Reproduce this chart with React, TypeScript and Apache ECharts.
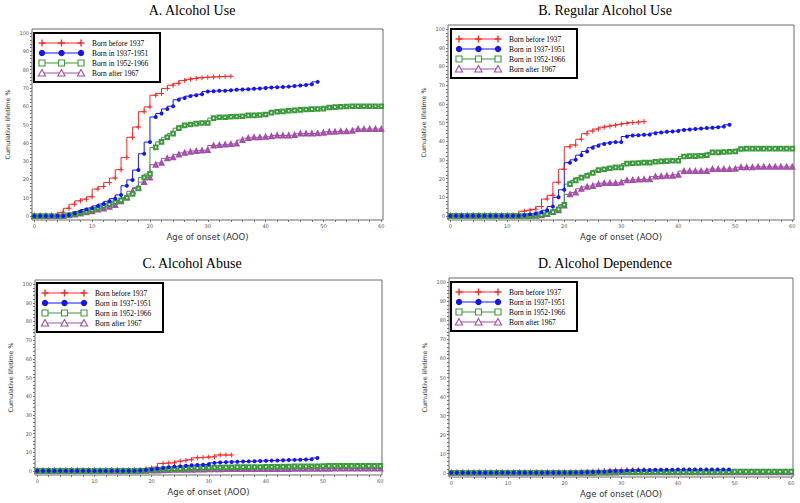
import React, { useEffect, useRef } from "react";
import * as echarts from "echarts";

// ---------- data ----------
const ages = [
  0, 1, 2, 3, 4, 5, 6, 7, 8, 9, 10, 11, 12, 13, 14, 15, 16, 17, 18, 19, 20,
  21, 22, 23, 24, 25, 26, 27, 28, 29, 30, 31, 32, 33, 34, 35, 36, 37, 38, 39, 40,
  41, 42, 43, 44, 45, 46, 47, 48, 49, 50, 51, 52, 53, 54, 55, 56, 57, 58, 59, 60,
];

const panelTitles = ["A. Alcohol Use", "B. Regular Alcohol Use", "C. Alcohol Abuse", "D. Alcohol Dependence"];
const cohortNames = ["Born before 1937", "Born in 1937-1951", "Born in 1952-1966", "Born after 1967"];
const xTickLabels = [0, 10, 20, 30, 40, 50, 60];
const xTicks = [0, 2, 4, 6, 8, 10, 12, 14, 16, 18, 20, 22, 24, 26, 28, 30, 32, 34, 36, 38, 40, 42, 44, 46, 48, 50, 52, 54, 56, 58, 60];
const yTickLabels = [0, 10, 20, 30, 40, 50, 60, 70, 80, 90, 100];
const yTicks = [0, 2, 4, 6, 8, 10, 12, 14, 16, 18, 20, 22, 24, 26, 28, 30, 32, 34, 36, 38, 40, 42, 44, 46, 48, 50, 52, 54, 56, 58, 60, 62, 64, 66, 68, 70, 72, 74, 76, 78, 80, 82, 84, 86, 88, 90, 92, 94, 96, 98, 100];
const xAxisTitle = "Age of onset (AOO)";
const yAxisTitle = "Cumulative lifetime %";

// A. Alcohol use
const useBefore1937 = [0, 0, 0, 0, 0, 2, 4.2, 6.4, 8.3, 9.2, 10.5, 14.7, 16.1, 18.3, 20.7, 25.3, 32, 43, 48.6, 57, 59.6, 66, 67, 69.7, 71.5, 72.5, 74, 74.7, 75.2, 75.6, 75.8, 76, 76.1, 76.3, 76.4];
const use1937to1951 = [0, 0, 0, 0, 0, 0, 0.5, 1.5, 2.5, 3.5, 4.3, 5.5, 6.5, 8, 9.5, 11.5, 16.5, 19.7, 25.1, 34, 40.4, 54.1, 56, 58.5, 60, 63.5, 64.5, 65.5, 66, 66.5, 68, 68.2, 68.4, 68.5, 68.7, 69, 69.1, 69.3, 69.5, 69.7, 70, 70.2, 70.4, 70.5, 70.7, 71, 71.3, 71.6, 72, 73.3];
const use1952to1966 = [0, 0, 0, 0, 0, 0, 0.5, 1, 1.8, 2.5, 3.3, 4.5, 5.5, 6.5, 7.5, 8.5, 10, 12, 15, 21, 23, 37.5, 40.5, 43, 45, 48, 49.5, 50, 50.5, 50.8, 50.8, 53.5, 54, 54, 54.2, 54.4, 54.5, 55, 55, 55.2, 55.5, 56.5, 57, 57.2, 57.5, 57.7, 58, 58.2, 58.4, 58.5, 58.7, 59.3, 59.5, 59.7, 59.8, 60, 60, 60, 60, 60, 60];
const useAfter1967 = [0, 0, 0, 0, 0, 0, 0.3, 0.8, 1.3, 2, 2.5, 3.5, 4, 5, 6, 8, 10, 13.5, 15.5, 18.5, 21, 28, 29, 31.5, 32, 33.5, 34.5, 35, 35.5, 35.8, 36, 38.5, 38.7, 39, 39.3, 39.5, 41.5, 42.5, 43, 43, 43.2, 43.5, 44, 44, 44, 44.2, 45, 45, 45, 45.2, 45.5, 46, 46, 46.2, 46.3, 46.5, 47.5, 47.5, 47.5, 47.5, 47.5];

// B. Regular alcohol use
const regBefore1937 = [0, 0, 0, 0, 0, 0, 0, 0, 0, 0, 0, 0, 0.8, 2.5, 3, 3.5, 5, 9, 11, 18, 25, 37, 38, 41, 44, 45.5, 46.5, 47.5, 48, 48.5, 49, 49.5, 50, 50.2, 50.5];
const reg1937to1951 = [0, 0, 0, 0, 0, 0, 0, 0, 0, 0, 0, 0, 0, 0.4, 0.8, 1.2, 2, 3, 5, 10, 14, 28.5, 30, 32.5, 34.5, 36.5, 37.5, 38.5, 39, 39.5, 39.5, 42.5, 43, 43.2, 43.4, 43.5, 44.3, 44.7, 45, 45.2, 45.5, 46, 46.3, 46.5, 46.8, 47, 47.2, 47.5, 47.8, 48.8];
const reg1952to1966 = [0, 0, 0, 0, 0, 0, 0, 0, 0, 0, 0, 0, 0, 0, 0, 0.2, 0.5, 1, 2, 3.5, 6, 17, 19, 20.5, 21.5, 23, 24.5, 25, 25.5, 26, 26, 28, 28.2, 28.3, 28.5, 28.5, 29, 29.2, 29.3, 29.5, 29.5, 31.8, 32, 32, 32.2, 32.5, 34, 34, 34.2, 34.3, 34.5, 35.8, 36, 36, 36, 36, 36, 36, 36, 36, 36];
const regAfter1967 = [0, 0, 0, 0, 0, 0, 0, 0, 0, 0, 0, 0, 0, 0, 0, 0, 0.3, 1, 2, 3, 5.5, 11.5, 12.5, 14.5, 15.5, 16, 17, 17.5, 17.5, 17.5, 17.8, 19, 19.2, 19.4, 19.5, 19.5, 21, 21.2, 21.5, 21.5, 22, 24, 24, 24, 24, 24, 25, 25, 25, 25, 25.2, 26, 26, 26, 26.2, 26.2, 26.2, 26.2, 26.2, 26.2, 26.2];

// C. Alcohol abuse
const abuseBefore1937 = [0, 0, 0, 0, 0, 0, 0, 0, 0, 0, 0, 0, 0, 0, 0, 0, 0, 0.2, 0.5, 1, 1.5, 2, 4, 4.2, 4.4, 5.2, 5.5, 6, 7, 7.2, 7.4, 7.6, 8.5, 8.5, 8.5];
const abuse1937to1951 = [0, 0, 0, 0, 0, 0, 0, 0, 0, 0, 0, 0, 0, 0, 0, 0, 0, 0, 0.2, 0.5, 0.8, 1.2, 1.5, 2, 2.3, 2.5, 2.7, 3, 3.2, 3.3, 3.5, 4.3, 4.5, 4.7, 4.8, 4.9, 5, 5.1, 5.2, 5.3, 5.4, 5.5, 5.6, 5.7, 5.8, 5.9, 6, 6.1, 6.2, 6.9];
const abuse1952to1966 = [0, 0, 0, 0, 0, 0, 0, 0, 0, 0, 0, 0, 0, 0, 0, 0, 0, 0, 0, 0.2, 0.4, 0.6, 0.8, 1, 1.1, 1.2, 1.3, 1.4, 1.5, 1.6, 1.7, 1.8, 1.8, 1.9, 1.9, 2, 2, 2, 2.1, 2.1, 2.2, 2.2, 2.2, 2.3, 2.3, 2.4, 2.4, 2.4, 2.5, 2.5, 2.6, 2.7, 2.7, 2.7, 2.7, 2.7, 2.7, 2.7, 2.7, 2.7, 2.7];
const abuseAfter1967 = [0, 0, 0, 0, 0, 0, 0, 0, 0, 0, 0, 0, 0, 0, 0, 0, 0, 0, 0, 0, 0.1, 0.2, 0.3, 0.4, 0.5, 0.5, 0.6, 0.6, 0.7, 0.7, 0.8, 0.8, 0.8, 0.9, 0.9, 0.9, 0.9, 1, 1, 1, 1, 1, 1, 1, 1, 1.1, 1.1, 1.1, 1.1, 1.1, 1.1, 1.1, 1.2, 1.2, 1.2, 1.2, 1.2, 1.2, 1.2, 1.2, 1.2];

// D. Alcohol dependence
const depBefore1937 = [0, 0, 0, 0, 0, 0, 0, 0, 0, 0, 0, 0, 0, 0, 0, 0, 0, 0, 0, 0, 0, 0, 0, 0.2, 0.4, 0.6, 0.9, 1.2, 1.4, 1.5, 1.5, 1.6, 1.6, 1.6, 1.6];
const dep1937to1951 = [0, 0, 0, 0, 0, 0, 0, 0, 0, 0, 0, 0, 0, 0, 0, 0, 0, 0, 0, 0, 0, 0, 0.1, 0.2, 0.3, 0.4, 0.5, 0.6, 0.8, 0.9, 1, 1.2, 1.3, 1.4, 1.5, 1.5, 1.6, 1.6, 1.6, 1.6, 1.7, 1.7, 1.7, 1.7, 1.7, 1.7, 1.7, 1.7, 1.7, 1.7];
const dep1952to1966 = [0, 0, 0, 0, 0, 0, 0, 0, 0, 0, 0, 0, 0, 0, 0, 0, 0, 0, 0, 0, 0, 0, 0, 0.1, 0.1, 0.1, 0.2, 0.2, 0.2, 0.3, 0.3, 0.3, 0.3, 0.3, 0.4, 0.4, 0.4, 0.4, 0.4, 0.4, 0.5, 0.5, 0.5, 0.5, 0.5, 0.5, 0.5, 0.5, 0.5, 0.5, 0.6, 0.6, 0.6, 0.6, 0.6, 0.6, 0.6, 0.6, 0.6, 0.6, 0.6];
const depAfter1967 = [0, 0, 0, 0, 0, 0, 0, 0, 0, 0, 0, 0, 0, 0, 0, 0, 0, 0, 0, 0, 0, 0, 0, 0, 0, 0, 0.1, 0.1, 0.1, 0.1, 0.2, 0.2, 0.2, 0.2, 0.2, 0.2, 0.2, 0.2, 0.2, 0.2, 0.2, 0.2, 0.2, 0.2, 0.2, 0.2, 0.2, 0.2, 0.2, 0.2, 0.2, 0.2, 0.2, 0.2, 0.2, 0.2, 0.2, 0.2, 0.2, 0.2, 0.2];

const panelSeries = [
  [useBefore1937, use1937to1951, use1952to1966, useAfter1967],
  [regBefore1937, reg1937to1951, reg1952to1966, regAfter1967],
  [abuseBefore1937, abuse1937to1951, abuse1952to1966, abuseAfter1967],
  [depBefore1937, dep1937to1951, dep1952to1966, depAfter1967],
];

// ---------- styling / layout ----------
const COLORS = ["#ff2626", "#1414ff", "#3a9a3a", "#a24fa8"];
const PLUS = "path://M2,0H3V2H5V3H3V5H2V3H0V2H2Z";
const SYMBOLS = [PLUS, "circle", "emptyRect", "emptyTriangle"];
const SYMBOL_SIZES = [5, 4, 3.6, 3.8];
const DRAW_ORDER = [0, 3, 2, 1];

const GRIDS = [
  { left: 32, top: 29, width: 351, height: 191, tx: 192, ty: 3, lx: 34, ly: 33 },
  { left: 448, top: 25, width: 346, height: 195, tx: 605, ty: 3, lx: 451, ly: 29 },
  { left: 35, top: 280, width: 347, height: 195, tx: 192, ty: 256, lx: 37, ly: 283 },
  { left: 449, top: 278, width: 344, height: 199, tx: 605, ty: 256, lx: 451, ly: 282 },
];

function legendGroup(x: number, y: number) {
  const children: any[] = [
    { type: "rect", shape: { x: 0, y: 0, width: 126, height: 49 }, style: { fill: "#fff", stroke: "#000", lineWidth: 2 } },
  ];
  const mx = [8, 27.5, 47];
  cohortNames.forEach((name, i) => {
    const cy = 10 + i * 10;
    const c = COLORS[i];
    children.push({ type: "line", shape: { x1: 8, y1: cy, x2: 47, y2: cy }, style: { stroke: c, lineWidth: 1.2 } });
    mx.forEach((cx) => {
      if (i === 0) {
        children.push({ type: "line", shape: { x1: cx - 3.5, y1: cy, x2: cx + 3.5, y2: cy }, style: { stroke: c, lineWidth: 1.4 } });
        children.push({ type: "line", shape: { x1: cx, y1: cy - 3.5, x2: cx, y2: cy + 3.5 }, style: { stroke: c, lineWidth: 1.4 } });
      } else if (i === 1) {
        children.push({ type: "circle", shape: { cx, cy, r: 3.2 }, style: { fill: c } });
      } else if (i === 2) {
        children.push({ type: "rect", shape: { x: cx - 3, y: cy - 3, width: 6, height: 6 }, style: { fill: "#fff", stroke: c, lineWidth: 1.1 } });
      } else {
        children.push({ type: "polygon", shape: { points: [[cx, cy - 3.5], [cx + 3.6, cy + 3], [cx - 3.6, cy + 3]] }, style: { fill: "#fff", stroke: c, lineWidth: 1.1 } });
      }
    });
    children.push({
      type: "text",
      x: 58,
      y: cy,
      style: {
        text: name,
        fontSize: 7.4,
        fontFamily: "Liberation Serif",
        fill: "#000",
        align: "left",
        verticalAlign: "middle",
        textAlign: "left",
        textVerticalAlign: "middle",
      },
    });
  });
  return { type: "group", x, y, z: 100, children };
}

export default function App() {
  const ref = useRef<HTMLDivElement>(null);

  useEffect(() => {
    if (!ref.current) return;
    const chart = echarts.init(ref.current, undefined, { renderer: "svg" });

    const grid = GRIDS.map((g) => ({
      left: g.left,
      top: g.top,
      width: g.width,
      height: g.height,
      show: true,
      borderColor: "#6a6a6a",
      borderWidth: 1,
      backgroundColor: "#fff",
      containLabel: false,
      outerBoundsMode: "none",
    }));

    const axisText = { fontSize: 5, color: "#555", fontFamily: "DejaVu Sans" };

    const xAxis = GRIDS.map((_, i) => ({
      type: "value",
      gridIndex: i,
      min: -0.4,
      max: 60.3,
      axisLine: { show: false, onZero: false },
      axisTick: { show: true, length: 2, customValues: xTicks, lineStyle: { color: "#777" } },
      axisLabel: { ...axisText, margin: 3, customValues: xTickLabels },
      splitLine: { show: false },
      name: xAxisTitle,
      nameLocation: "middle",
      nameGap: 12,
      nameMoveOverlap: false,
      nameTextStyle: { fontSize: 8.5, color: "#333", fontFamily: "DejaVu Sans" },
    }));

    const yAxis = GRIDS.map((_, i) => ({
      type: "value",
      gridIndex: i,
      min: -2.2,
      max: 102.2,
      axisLine: { show: false, onZero: false },
      axisTick: { show: true, length: 2, customValues: yTicks, lineStyle: { color: "#777" } },
      axisLabel: { ...axisText, margin: 3, customValues: yTickLabels },
      splitLine: { show: false },
      name: yAxisTitle,
      nameLocation: "middle",
      nameGap: 22,
      nameRotate: 90,
      nameMoveOverlap: false,
      nameTextStyle: { fontSize: 6.3, color: "#333", fontFamily: "DejaVu Sans" },
    }));

    const series: any[] = [];
    panelSeries.forEach((cohorts, p) => {
      DRAW_ORDER.forEach((c) => {
        const values = cohorts[c];
        series.push({
          type: "line",
          name: cohortNames[c],
          xAxisIndex: p,
          yAxisIndex: p,
          step: "start",
          data: values.map((v, i) => [ages[i], v]),
          symbol: SYMBOLS[c],
          symbolSize: SYMBOL_SIZES[c],
          showSymbol: true,
          lineStyle: { color: COLORS[c], width: 1 },
          itemStyle: c >= 2 ? { color: COLORS[c], borderColor: COLORS[c], borderWidth: 0.6 } : { color: COLORS[c], borderWidth: 0 },
          emphasis: { disabled: true },
          silent: true,
          clip: false,
        });
      });
    });

    const title = GRIDS.map((g, i) => ({
      text: panelTitles[i],
      left: g.tx,
      top: g.ty,
      textAlign: "center",
      padding: 0,
      textStyle: { fontSize: 14, fontWeight: "normal", color: "#000", fontFamily: "Liberation Serif" },
    }));

    chart.setOption({
      animation: false,
      backgroundColor: "#fff",
      title,
      grid,
      xAxis,
      yAxis,
      series,
      graphic: GRIDS.map((g) => legendGroup(g.lx, g.ly)),
    });

    return () => chart.dispose();
  }, []);

  return <div ref={ref} style={{ position: "fixed", left: 0, top: 0, width: 800, height: 503 }} />;
}
